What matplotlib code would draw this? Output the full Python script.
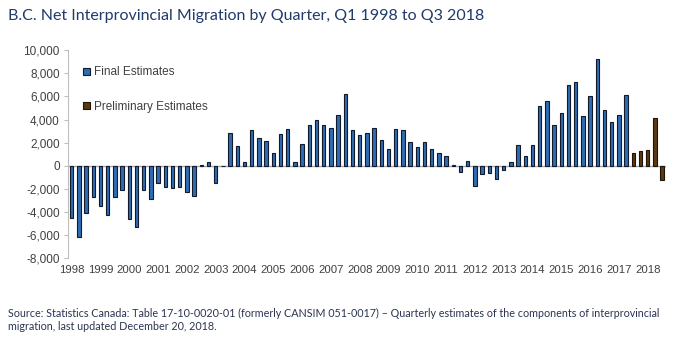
import matplotlib
matplotlib.use("Agg")
import matplotlib.pyplot as plt
import numpy as np

# quarterly net interprovincial migration, Q1 1998 .. Q3 2018
final_vals = [-4550, -6200, -4100, -2740, -3450, -4270, -2700, -2070,
              -4640, -5280, -2100, -2830, -1520, -1870, -1880, -1800,
              -2280, -2650, 100, 290, -1470, -40, 2850, 1700,
              330, 3060, 2410, 2100, 1080, 2750, 3200, 300,
              1900, 3500, 3950, 3500, 3270, 4370, 6170, 3080,
              2650, 2810, 3230, 2200, 1480, 3140, 3060, 2070,
              1640, 2030, 1480, 1130, 820, 50, -580, 430,
              -1790, -750, -600, -1180, -390, 290, 1840, 820,
              1770, 5160, 5630, 3490, 4530, 6950, 7210, 4320,
              6020, 9250, 4810, 3770, 4350, 6140]
prelim_vals = [1130, 1270, 1350, 4120, -1240]
years = [str(y) for y in range(1998, 2019)]

n_final = len(final_vals)
x_final = np.arange(n_final)
x_prelim = np.arange(n_final, n_final + len(prelim_vals))

fig = plt.figure(figsize=(6.83, 3.41), dpi=100)
ax = fig.add_axes([0.0996, 0.2425, 0.875, 0.6105])

ax.axhline(0, color="#a6a6a6", lw=1, zorder=1)
ax.bar(x_final, final_vals, width=0.47, color="#2e6db4", edgecolor="#111a2b",
       linewidth=0.8, label="Final Estimates", zorder=2)
ax.bar(x_prelim, prelim_vals, width=0.47, color="#5b3a12", edgecolor="#1e1408",
       linewidth=0.8, label="Preliminary Estimates", zorder=2)

ax.set_xlim(-0.5, n_final + len(prelim_vals) - 0.5)
ax.set_ylim(-8000, 10000)
ax.set_yticks(np.arange(-8000, 10001, 2000))
ax.yaxis.set_major_formatter(matplotlib.ticker.FuncFormatter(lambda v, p: f"{int(v):,}"))
ax.set_xticks(np.arange(0, 84, 4))
ax.set_xticklabels(years)

for s in ["top", "right", "bottom"]:
    ax.spines[s].set_visible(False)
ax.spines["left"].set_color("#bfbfbf")
ax.tick_params(axis="y", length=3, color="#bfbfbf", labelsize=8.5,
               labelcolor="#404040", pad=3)
ax.tick_params(axis="x", length=0, labelsize=8.2, labelcolor="#404040", pad=5)
for lab in ax.get_xticklabels() + ax.get_yticklabels():
    lab.set_family("Liberation Sans")

leg = ax.legend(loc="upper left", bbox_to_anchor=(0.015, 0.95), frameon=False,
                handlelength=0.6, handleheight=0.6, handletextpad=0.3,
                labelspacing=1.9, borderpad=0,
                prop={"family": "Liberation Sans", "size": 8.5})
for t in leg.get_texts():
    t.set_color("#404040")

fig.text(0.011, 0.953, "B.C. Net Interprovincial Migration by Quarter, Q1 1998 to Q3 2018",
         family="Lato", fontsize=11.55, color="#1f3a6b", va="center")
fig.text(0.011, 0.062, "Source: Statistics Canada: Table 17-10-0020-01 (formerly CANSIM 051-0017) \u2013 "
         "Quarterly estimates of the components of interprovincial\n"
         "migration, last updated December 20, 2018.",
         family="Lato", fontsize=7.75, color="#2a3550", va="center", linespacing=1.3)

fig.savefig("out.png", dpi=100)
